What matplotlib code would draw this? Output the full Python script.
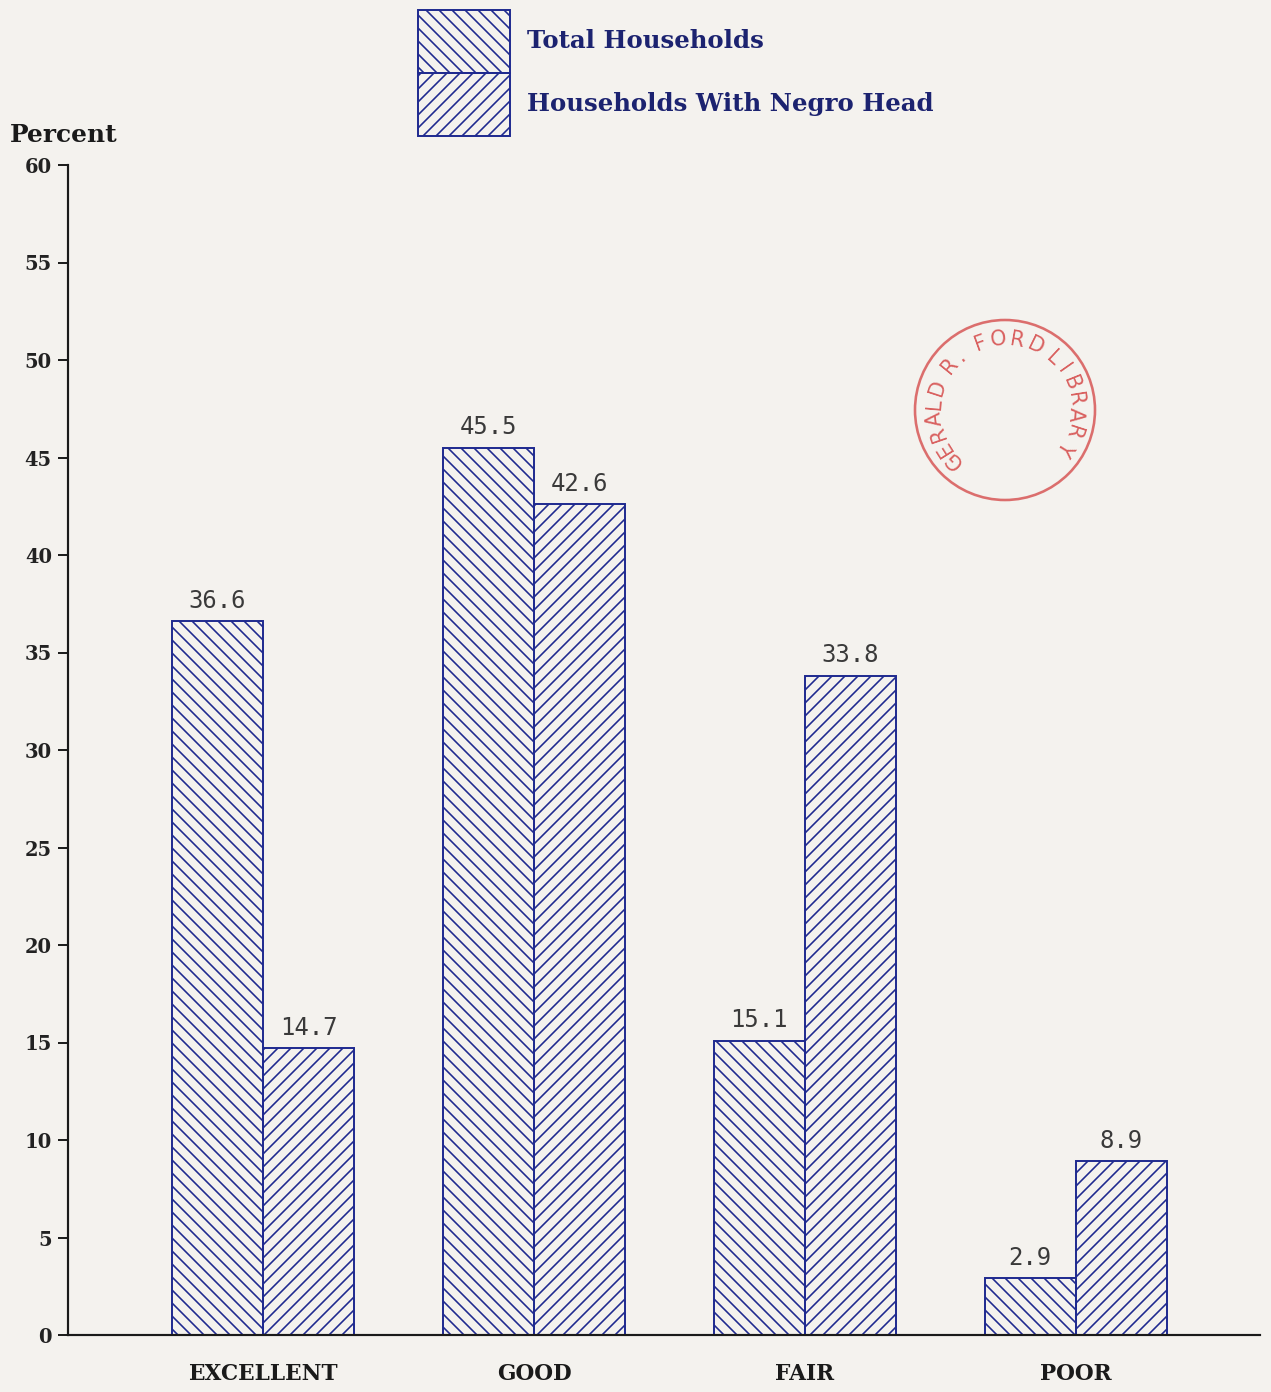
import numpy as np
import matplotlib
matplotlib.use("Agg")
import matplotlib.pyplot as plt
from matplotlib.patches import Rectangle, Circle

# data
categories = ["EXCELLENT", "GOOD", "FAIR", "POOR"]
total_households = [36.6, 45.5, 15.1, 2.9]
negro_head = [14.7, 42.6, 33.8, 8.9]
series_names = ["Total Households", "Households With Negro Head"]
y_ticks = list(range(0, 61, 5))

W, H, DPI = 1271, 1392, 78
BLUE = "#1f2a8f"
PAPER = "#f4f2ee"
STAMP = "#d9605f"

plt.rcParams["hatch.color"] = BLUE
plt.rcParams["hatch.linewidth"] = 1.5

fig = plt.figure(figsize=(W / DPI, H / DPI), dpi=DPI, facecolor=PAPER)


def fx(px):
    return px / W


def fy(py):
    return 1 - py / H


ax = fig.add_axes([fx(68), fy(1335), fx(1260) - fx(68), fy(165) - fy(1335)])
ax.set_facecolor(PAPER)

x = np.arange(len(categories))
width = 0.336
bars1 = ax.bar(x - width / 2, total_households, width, facecolor="none",
               edgecolor=BLUE, hatch="\\\\", linewidth=1.8)
bars2 = ax.bar(x + width / 2, negro_head, width, facecolor="none",
               edgecolor=BLUE, hatch="//", linewidth=1.8)

for bars, vals in [(bars1, total_households), (bars2, negro_head)]:
    for b, v in zip(bars, vals):
        ax.annotate(f"{v:.1f}", (b.get_x() + b.get_width() / 2, b.get_height()),
                    xytext=(0, 8), textcoords="offset points", ha="center", va="bottom",
                    family="DejaVu Sans Mono", fontsize=22, color="#3a3a3a")

ax.set_xlim(-0.72, 3.68)
ax.set_ylim(0, 60)
ax.set_yticks(y_ticks)
ax.set_yticklabels([str(t) for t in y_ticks], family="DejaVu Serif",
                   fontweight="bold", fontsize=18, color="#222222")
ax.set_xticks(x)
ax.set_xticklabels(categories, family="DejaVu Serif", fontweight="bold",
                   fontsize=20, color="#1a1a1a")
ax.tick_params(axis="x", length=0, pad=26)
ax.tick_params(axis="y", length=9, width=1.8, pad=6, color="#1a1a1a")
for s in ["top", "right"]:
    ax.spines[s].set_visible(False)
for s in ["left", "bottom"]:
    ax.spines[s].set_linewidth(2.0)
    ax.spines[s].set_color("#1a1a1a")

fig.text(fx(10), fy(135), "Percent", family="DejaVu Serif", fontweight="bold",
         fontsize=23, color="#1a1a1a", va="center", ha="left")

# legend drawn as two stacked swatches
for i, (name, hatch) in enumerate(zip(series_names, ["\\\\", "//"])):
    top = 10 + i * 63
    fig.add_artist(Rectangle((fx(418), fy(top + 63)), fx(510) - fx(418),
                             fy(top) - fy(top + 63), transform=fig.transFigure,
                             facecolor="none", edgecolor=BLUE, hatch=hatch, linewidth=1.8))
    fig.text(fx(527), fy(top + 31), name, family="DejaVu Serif", fontweight="bold",
             fontsize=22.5, color="#1c2370", va="center", ha="left")

# library stamp
sax = fig.add_axes([fx(905), fy(510), fx(1105) - fx(905), fy(310) - fy(510)])
sax.set_xlim(-100, 100)
sax.set_ylim(-100, 100)
sax.axis("off")
sax.add_patch(Circle((0, 0), 90, facecolor="none", edgecolor=STAMP, linewidth=2.4, alpha=0.9))
stamp_chars = ["G", "E", "R", "A", "L", "D", "R", ".", "F", "O", "R", "D",
               "L", "I", "B", "R", "A", "R", "Y"]
stamp_angles = [224, 212, 199, 187, 175, 162, 141, 129, 110, 95, 80, 64,
                47, 35, 22, 9, -4, -18, -32]
for ch, a in zip(stamp_chars, stamp_angles):
    r = np.deg2rad(a)
    sax.text(71 * np.cos(r), 71 * np.sin(r), ch, rotation=a - 90, ha="center", va="center",
             fontsize=19, color=STAMP, family="DejaVu Sans", rotation_mode="anchor")

fig.savefig("out.png", dpi=DPI, facecolor=PAPER)
